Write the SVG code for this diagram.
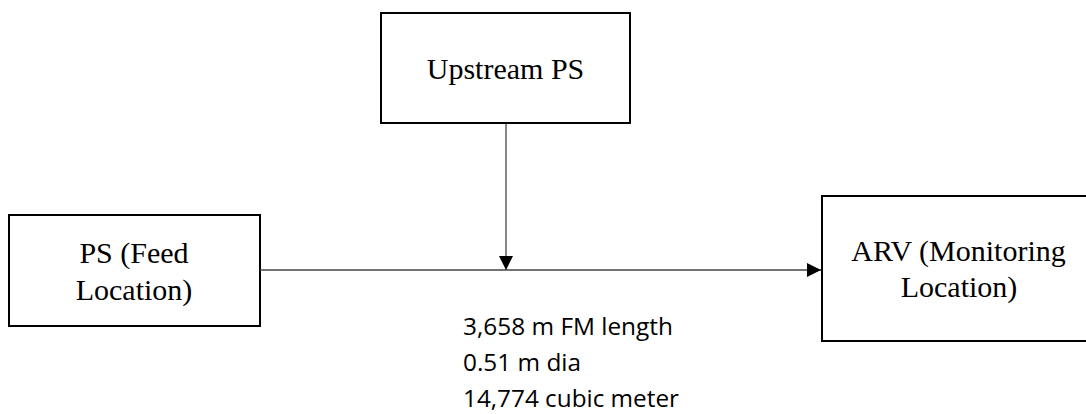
<svg xmlns="http://www.w3.org/2000/svg" width="1086" height="414" viewBox="0 0 1086 414">
<style>
.box{fill:#fff;stroke:#000;stroke-width:2}
.t{font-family:"Liberation Serif",serif;font-size:30px;fill:#000;text-anchor:middle}
.s{font-family:"Open Sans","Liberation Sans",sans-serif;font-size:24px;fill:#000}
.c{stroke:#444;stroke-width:1.3;fill:none}
</style>
<defs>
<marker id="ah" markerWidth="14" markerHeight="14" refX="14" refY="7" orient="auto" markerUnits="userSpaceOnUse">
<path d="M0,0 L14,7 L0,14 z" fill="#000"/>
</marker>
</defs>
<rect width="1086" height="414" fill="#fff"/>
<g id="upstream">
<rect class="box" x="381" y="13" width="249" height="110"/>
<text class="t" x="505.5" y="79">Upstream PS</text>
</g>
<g id="feed">
<rect class="box" x="9" y="215" width="251" height="111"/>
<text class="t" x="134" y="263">PS (Feed</text>
<text class="t" x="134" y="300">Location)</text>
</g>
<g id="arv">
<rect class="box" x="822" y="196" width="275" height="145"/>
<text class="t" x="958.5" y="261">ARV (Monitoring</text>
<text class="t" x="959" y="297">Location)</text>
</g>
<g id="connectors">
<line class="c" x1="506" y1="124" x2="506" y2="270" marker-end="url(#ah)"/>
<line class="c" x1="260" y1="270" x2="821" y2="270" marker-end="url(#ah)"/>
</g>
<g id="label">
<text class="s" x="463" y="335" textLength="210" lengthAdjust="spacingAndGlyphs">3,658 m FM length</text>
<text class="s" x="463" y="371" textLength="118" lengthAdjust="spacingAndGlyphs">0.51 m dia</text>
<text class="s" x="463" y="407" textLength="216" lengthAdjust="spacingAndGlyphs">14,774 cubic meter</text>
</g>
</svg>
